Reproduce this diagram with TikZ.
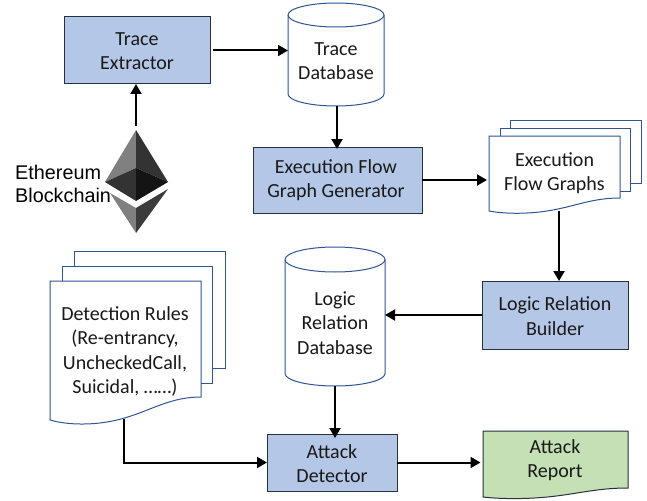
\documentclass[tikz,border=0pt]{standalone}
\usepackage{fontspec}
\setmainfont{Carlito}
\newfontfamily\arialfont{Liberation Sans}
\usetikzlibrary{arrows.meta,calc}
\definecolor{boxblue}{HTML}{B4C7E7}
\definecolor{boxline}{HTML}{26303F}
\definecolor{docline}{HTML}{2F5597}
\definecolor{repgreen}{HTML}{C5E0B4}
\tikzset{
  x=1pt,y=-1pt,
  label text/.style={align=center,font=\fontsize{20}{24.3}\selectfont,text=black!90,inner sep=0pt,outer sep=0pt},
  procbox/.style={draw=boxline,line width=1pt,fill=boxblue,outer sep=0pt,inner sep=0pt},
  docshape/.style={draw=docline,line width=1pt,fill=white},
  repshape/.style={draw=boxline,line width=1pt,fill=repgreen},
  flow/.style={draw=black,line width=2pt,-{Triangle[length=10pt,width=11pt]}},
}
% \wavedoc{style}{x0}{y0}{x1}{yr}{yl}
\newcommand{\wavedoc}[6]{%
  \pgfmathsetmacro{\wavew}{#4-#2}\pgfmathsetmacro{\waveh}{#6-#5}%
  \draw[#1] (#2,#3) -- (#4,#3) -- (#4,#5)
  .. controls ({#2+.8*\wavew},#5) and ({#2+.68*\wavew},{#5+.55*\waveh}) .. ({#2+.5*\wavew},{#5+.9*\waveh})
  .. controls ({#2+.3*\wavew},{#5+1.3*\waveh}) and ({#2+.1*\wavew},{#5+1.2*\waveh}) .. (#2,#6) -- cycle;
}
% \cyl{x0}{x1}{ytop}{ybottom}{ry}
\newcommand{\cyl}[5]{%
  \pgfmathsetmacro{\rxx}{(#2-#1)/2}%
  \pgfmathsetmacro{\yt}{#3+#5}\pgfmathsetmacro{\yb}{#4-#5}%
  \draw[docshape] (#1,\yt) arc[start angle=180,end angle=0,x radius=\rxx pt,y radius=#5 pt]
    -- (#2,\yb) arc[start angle=0,end angle=-180,x radius=\rxx pt,y radius=#5 pt] -- cycle;
  \draw[docshape,fill=none] (#1,\yt) arc[start angle=180,end angle=360,x radius=\rxx pt,y radius=#5 pt];
}
\begin{document}
\begin{tikzpicture}
\useasboundingbox (0,0) rectangle (647,500);
\fill[white] (0,0) rectangle (647,500);

% process boxes
\node[procbox,minimum width=146pt,minimum height=67pt] (te) at (137,50.5) {};
\node[label text] (tetext) at (137,51) {Trace\\Extractor};
\node[procbox,minimum width=169pt,minimum height=66pt] (efg) at (337.5,180) {};
\node[label text] (efgtext) at (336,180.5) {Execution Flow\\Graph Generator};
\node[procbox,minimum width=146pt,minimum height=68pt] (lrb) at (555,315) {};
\node[label text] (lrbtext) at (555,316) {Logic Relation\\Builder};
\node[procbox,minimum width=130pt,minimum height=57pt] (ad) at (332,462.5) {};
\node[label text] (adtext) at (332,463.5) {Attack\\Detector};

% databases
\cyl{288}{384}{3}{106}{12}
\node[inner sep=0pt,outer sep=0pt,minimum width=96pt,minimum height=103pt] (tdb) at (336,54.5) {};
\node[label text] (tdbtext) at (336,61.5) {Trace\\Database};
\cyl{285}{385}{247}{386}{12.5}
\node[inner sep=0pt,outer sep=0pt,minimum width=100pt,minimum height=139pt] (ldb) at (335,316.5) {};
\node[label text] (ldbtext) at (335,323) {Logic\\Relation\\Database};

% execution flow graphs stack
\draw[docshape] (510,120) rectangle (641,183);
\draw[docshape] (500,128) rectangle (630,191);
\wavedoc{docshape}{489}{136}{620}{198}{211}
\node[label text,minimum width=131pt,minimum height=75pt] (efgs) at (554.5,173.5) {Execution\\Flow Graphs};

% detection rules stack
\draw[docshape] (74,251) rectangle (225,368);
\draw[docshape] (62,266) rectangle (212,383);
\wavedoc{docshape}{50}{281}{201}{397}{420}
\node[label text,minimum width=151pt] (rules) at (125,351.5) {Detection Rules\\(Re-entrancy,\\UncheckedCall,\\Suicidal, ……)};
\coordinate (rulesout) at (124,419);

% attack report
\wavedoc{repshape}{483}{431}{628}{488}{497}
\node[label text,minimum width=145pt,minimum height=60pt] (rep) at (555,460) {Attack\\Report};

% ethereum logo
\fill[black!50] (136,130) -- (105,182) -- (136,168) -- cycle;
\fill[black!80] (136,130) -- (168,182) -- (136,168) -- cycle;
\fill[black!80] (105,182) -- (136,168) -- (136,201) -- cycle;
\fill[black!92] (168,182) -- (136,168) -- (136,201) -- cycle;
\fill[black!50] (110,193) -- (136,208) -- (136,233) -- cycle;
\fill[black!77] (168,189) -- (136,208) -- (136,233) -- cycle;
\coordinate (eth) at (136,126);
\node[font=\arialfont\fontsize{19.8}{23}\selectfont,align=left,inner sep=0pt,anchor=west] (lab) at (15,183.5) {Ethereum\\Blockchain};

% connectors
\coordinate (flowgraphsout) at (559,211);
\draw[flow] (eth) -- (eth |- te.south);
\draw[flow] ([xshift=3pt]te.east) -- (tdb.west |- te.east);
\draw[flow] ([xshift=1pt]tdb.south) -- ([xshift=1pt,yshift=-2pt]tdb.south |- efg.north);
\draw[flow] (efg.east) -- ([xshift=-2pt]efgs.west |- efg.east);
\draw[flow] (flowgraphsout) -- (flowgraphsout |- lrb.north);
\draw[flow] (lrb.west) -- (ldb.east |- lrb.west);
\draw[flow] (ldb.south) -- ([yshift=-4pt]ldb.south |- ad.north);
\draw[flow] (rulesout) |- (ad.west);
\draw[flow] (ad.east) -- ([xshift=-2pt]rep.west |- ad.east);
\end{tikzpicture}
\end{document}
